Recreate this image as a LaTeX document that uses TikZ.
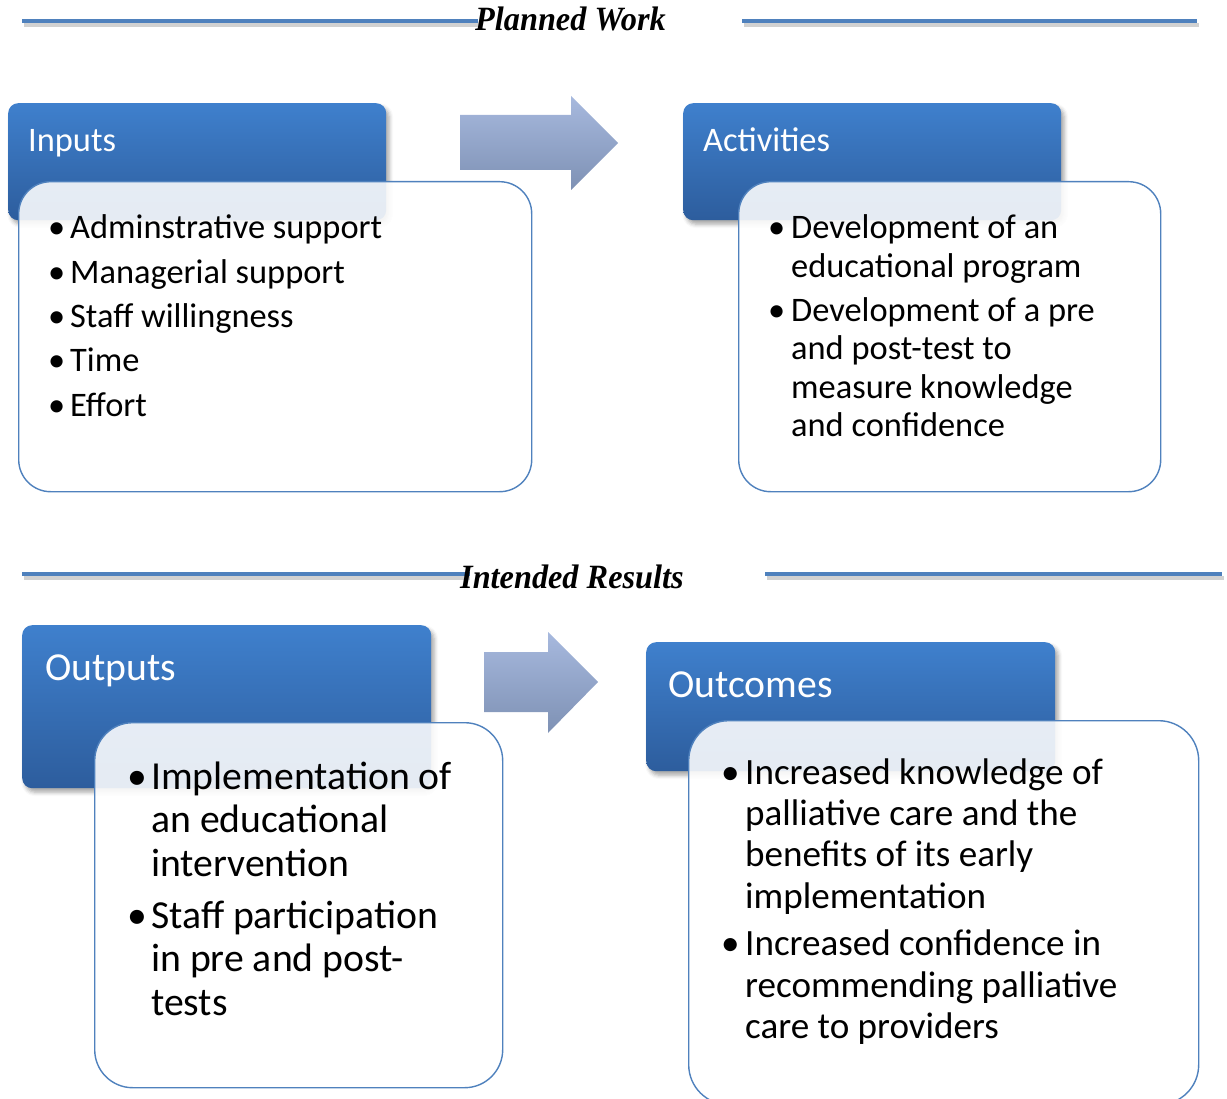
\documentclass[tikz,border=0pt]{standalone}
\usepackage{fontspec}
\usepackage{graphicx}
\setmainfont{Carlito}
\newfontfamily\titlefont{Liberation Serif}
\usetikzlibrary{shadows.blur}
\definecolor{hdtop}{RGB}{63,128,205}
\definecolor{hdbot}{RGB}{45,93,157}
\definecolor{boxline}{RGB}{79,129,189}
\definecolor{ruleblue}{RGB}{79,129,189}
\definecolor{arrtop}{RGB}{167,185,222}
\definecolor{arrbot}{RGB}{126,145,180}
\begin{document}
\begin{tikzpicture}[x=1pt,y=-1pt,
  hdbox/.style={rectangle,rounded corners=10pt,inner sep=0,anchor=north west,
    top color=hdtop,bottom color=hdbot,draw=none,
    blur shadow={shadow xshift=3pt,shadow yshift=-4pt,shadow opacity=35,shadow blur radius=4pt}},
  bodybox/.style={rectangle,inner sep=0,anchor=north west,draw=boxline,line width=1.4pt,
    fill=white,fill opacity=0.88},
  hdtext/.style={anchor=base west,inner sep=0,text=white},
  items/.style={anchor=base west,inner sep=0},
  rule/.style={line width=4.5pt,draw=ruleblue},
  flow/.style={top color=arrtop,bottom color=arrbot,draw=none}]
\useasboundingbox (0,0) rectangle (1227,1099);
%%
\def\topsize{\fontsize{34.4}{38.3}\selectfont}
\def\outsize{\fontsize{39.7}{43.7}\selectfont}
\def\comesize{\fontsize{37.1}{41.4}\selectfont}
\def\hdsize#1{\fontsize{#1}{#1}\selectfont}
\newcommand{\blt}{\textbullet &}
\newcommand{\titl}[1]{\scalebox{0.95}[1]{\titlefont\bfseries\itshape\fontsize{34}{34}\selectfont #1}}
%%
% section rules
\draw[line width=4pt,draw=black,opacity=0.18] (24,25) -- (478,25) (744,25) -- (1199,25);
\draw[rule] (22,21) -- (478,21) (742,21) -- (1197,21);
\draw[line width=4pt,draw=black,opacity=0.18] (24,578) -- (470,578) (767,578) -- (1224,578);
\draw[rule] (22,574) -- (470,574) (765,574) -- (1222,574);
\node[anchor=base west,inner sep=0] (planned) at (475,31) {\titl{Planned Work}};
\node[anchor=base west,inner sep=0] (intended) at (460,588) {\titl{Intended Results}};
%
% flow arrows
\shade[flow] (460,115) -- (571,115) -- (571,96) -- (618,143) -- (571,190) -- (571,170) -- (460,170) -- cycle;
\shade[flow] (484,652) -- (548,652) -- (548,632) -- (598,682) -- (548,733) -- (548,712) -- (484,712) -- cycle;
%
% Inputs
\node[hdbox,minimum width=378pt,minimum height=117pt] (inputs) at (8,103) {};
\node[bodybox,rounded corners=32pt,minimum width=513pt,minimum height=310pt] (inputsbody) at (18,181) {};
\node[hdtext,font=\hdsize{34.4}] (inputslbl) at (28,152) {Inputs};
\node[items,font=\topsize] (inputslist) at (48,239) {\begin{tabular}[t]{@{}p{22pt}@{}l@{}}
  \blt Adminstrative support\\[6pt]
  \blt Managerial support\\[6pt]
  \blt Staff willingness\\[6pt]
  \blt Time\\[6pt]
  \blt Effort
\end{tabular}};
%
% Activities
\node[hdbox,minimum width=378pt,minimum height=117pt] (activities) at (683,103) {};
\node[bodybox,rounded corners=32pt,minimum width=422pt,minimum height=310pt] (activitiesbody) at (738,181) {};
\node[hdtext,font=\hdsize{34.4}] (activitieslbl) at (703,152) {Activities};
\node[items,font=\topsize] (activitieslist) at (768,239) {\begin{tabular}[t]{@{}p{23pt}@{}l@{}}
  \blt Development of an\\
      & educational program\\[6pt]
  \blt Development of a pre\\
      & and post-test to\\
      & measure knowledge\\
      & and confidence
\end{tabular}};
%
% Outputs
\node[hdbox,minimum width=409pt,minimum height=163pt] (outputs) at (22,625) {};
\node[bodybox,rounded corners=38pt,minimum width=408pt,minimum height=365pt] (outputsbody) at (94,722) {};
\node[hdtext,font=\hdsize{39.7}] (outputslbl) at (45,680) {Outputs};
\node[items,font=\outsize] (outputslist) at (127,789) {\begin{tabular}[t]{@{}p{24pt}@{}l@{}}
  \blt Implementation of\\
      & an educational\\
      & intervention\\[8pt]
  \blt Staff participation\\
      & in pre and post-\\
      & tests
\end{tabular}};
%
% Outcomes
\node[hdbox,minimum width=409pt,minimum height=129pt] (outcomes) at (646,642) {};
\node[bodybox,rounded corners=40pt,minimum width=510pt,minimum height=384pt] (outcomesbody) at (688,720) {};
\node[hdtext,font=\hdsize{39.7}] (outcomeslbl) at (668,697) {Outcomes};
\node[items,font=\comesize] (outcomeslist) at (721,784) {\begin{tabular}[t]{@{}p{24pt}@{}l@{}}
  \blt Increased knowledge of\\
      & palliative care and the\\
      & benefits of its early\\
      & implementation\\[6pt]
  \blt Increased confidence in\\
      & recommending palliative\\
      & care to providers
\end{tabular}};
\end{tikzpicture}
\end{document}
